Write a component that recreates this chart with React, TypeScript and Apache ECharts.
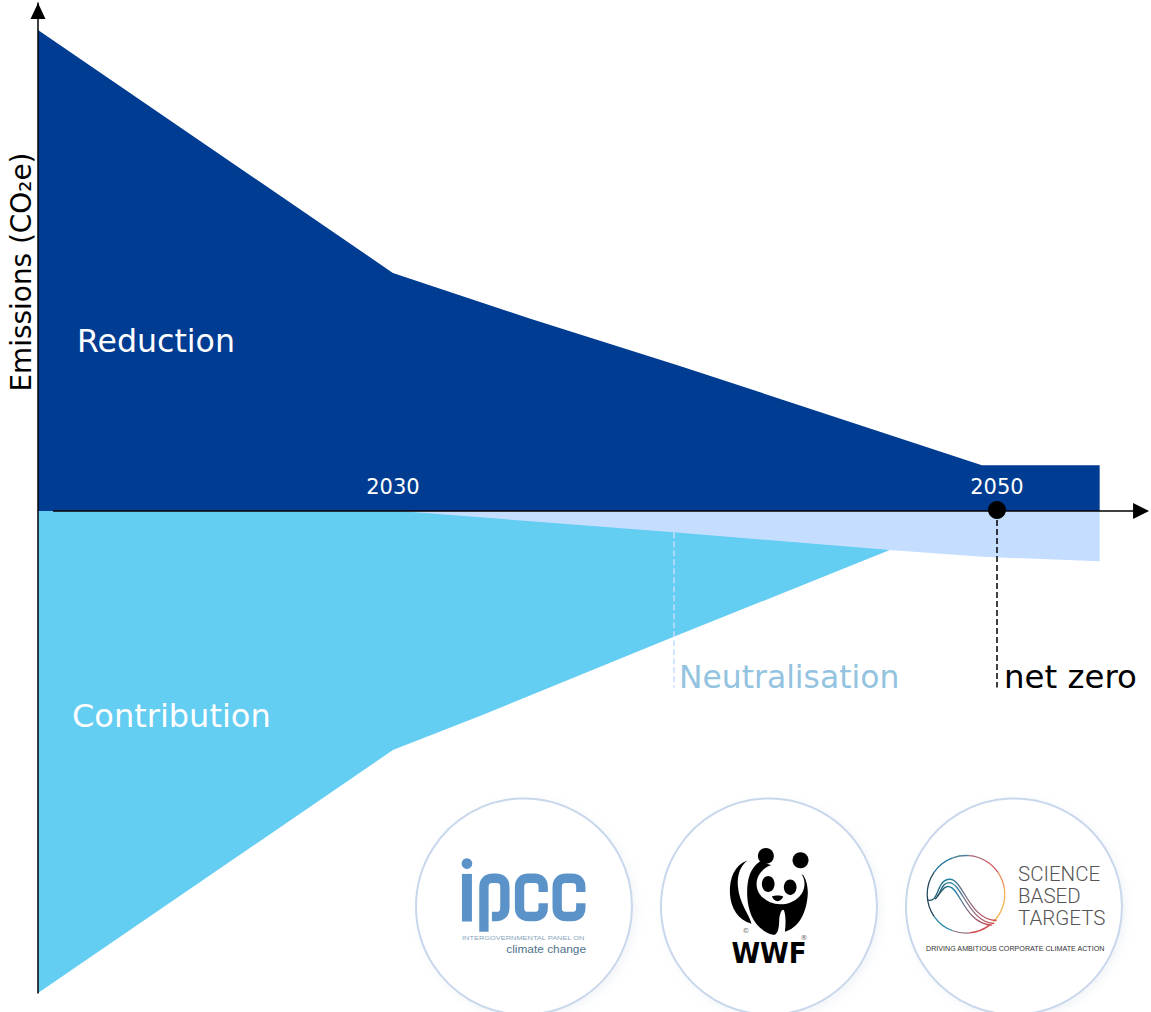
import React, { useEffect, useRef } from "react";
import * as echarts from "echarts";

// Chart values (x: year, y: share of base emissions)
const reductionYears = [2018.25, 2030, 2034.5, 2039.5, 2049.5, 2053.4];
const reductionValues = [99.8, 49.4, 40, 30.1, 9.5, 9.5];
const contributionYears = [2018.25, 2030, 2032.9, 2039.3, 2046.45];
const contributionValues = [-100, -49.6, -42.5, -26.1, -8.1];
const neutralisationYears = [2030.2, 2039.3, 2046.45, 2049.5, 2053.4];
const neutralisationValues = [0, -4.4, -8.1, -9.5, -10.4];
const tickYears = [2030, 2050];
const netZeroYear = 2050;
const neutralisationMarkerYear = 2039.3;
const markerBottom = -36.6;

const zip = (xs: number[], ys: number[]) => xs.map((x, i) => [x, ys[i]]);

const FONT = "'DejaVu Sans', sans-serif";

const IPCC_D =
  "M252 456 V322 Q252 295 279 295 H288 Q315 295 315 322 V383 Q315 410 288 410 H276 " +
  "M430 336 V322 Q430 295 403 295 H386 Q359 295 359 322 V383 Q359 410 386 410 H403 Q430 410 430 383 V370 " +
  "M543 336 V322 Q543 295 516 295 H499 Q472 295 472 322 V383 Q472 410 499 410 H516 Q543 410 543 383 V370";
const PANDA_BODY_D =
  "M330 245 C300 265 290 300 292 350 C295 400 315 450 370 465 C385 467 388 440 388 420 " +
  "C390 400 395 390 400 390 C405 390 410 420 405 456 C440 445 470 410 474 340 C474 320 470 300 460 285 L330 245 Z";
const PANDA_HUMP_D =
  "M292 242 C255 255 238 295 240 340 C242 385 265 420 305 432 C296 400 268 370 264 320 C261 285 272 258 292 242 Z";
const PANDA_NOSE_D =
  "M366 350 C375 346 392 346 400 350 C398 358 390 363 383 364 C376 363 369 358 366 350 Z " +
  "M368 372 C378 380 390 380 398 372 C392 384 376 384 368 372 Z";
const SBT_1_D = "M97 360 C135 372 122 298 165 298 C205 298 222 420 305 422";
const SBT_2_D = "M120 358 C138 345 138 308 163 308 C200 308 222 428 298 431";
const SBT_3_D = "M127 350 C143 330 148 318 163 320 C195 325 212 434 292 436";

echarts.graphic.registerShape("ipccLetters", echarts.graphic.extendPath(IPCC_D, {}));
echarts.graphic.registerShape("pandaBody", echarts.graphic.extendPath(PANDA_BODY_D, {}));
echarts.graphic.registerShape("pandaHump", echarts.graphic.extendPath(PANDA_HUMP_D, {}));
echarts.graphic.registerShape("pandaNose", echarts.graphic.extendPath(PANDA_NOSE_D, {}));
echarts.graphic.registerShape("sbt1", echarts.graphic.extendPath(SBT_1_D, {}));
echarts.graphic.registerShape("sbt2", echarts.graphic.extendPath(SBT_2_D, {}));
echarts.graphic.registerShape("sbt3", echarts.graphic.extendPath(SBT_3_D, {}));

const label = (
  text: string,
  x: number,
  y: number,
  fontSize: number,
  fill: string,
  extra: any = {},
  styleExtra: any = {}
) => ({
  type: "text",
  x,
  y,
  z: 20,
  silent: true,
  ...extra,
  style: {
    text,
    fill,
    font: `${fontSize}px ${FONT}`,
    textVerticalAlign: "middle",
    ...styleExtra,
  },
});

const badge = (cx: number) => ({
  type: "circle",
  z: 15,
  silent: true,
  shape: { cx, cy: 906.5, r: 108 },
  style: {
    fill: "#ffffff",
    stroke: "#c9d7ec",
    lineWidth: 2,
    shadowBlur: 8,
    shadowOffsetX: 3,
    shadowOffsetY: 3,
    shadowColor: "rgba(200,210,225,0.25)",
  },
});

const zoomGroup = (x: number, y: number, children: any[]) => ({
  type: "group",
  x,
  y,
  scaleX: 1 / 3,
  scaleY: 1 / 3,
  silent: true,
  children: children.map((c) => ({ z: 16, ...c })),
});

const sbtGradient = {
  type: "linear",
  x: 0,
  y: 0,
  x2: 1,
  y2: 0,
  colorStops: [
    { offset: 0, color: "#24475a" },
    { offset: 0.3, color: "#1f86a6" },
    { offset: 0.6, color: "#8a6a7e" },
    { offset: 1, color: "#d2474c" },
  ],
};

const sbtArcs: [number, number, string][] = [
  [180, 215, "#24475a"],
  [215, 250, "#22789a"],
  [250, 275, "#4f8196"],
  [275, 300, "#a9616e"],
  [300, 325, "#d2505a"],
  [325, 350, "#ea8a55"],
  [350, 405, "#f0b351"],
  [52, 85, "#d2474c"],
  [85, 110, "#8f7585"],
  [110, 145, "#2a8aa8"],
  [145, 180, "#24475a"],
];

const graphics: any[] = [
  label("Emissions (CO\u2082e)", 21, 272, 27.9, "#000000", { rotation: Math.PI / 2 }, { textAlign: "center" }),
  label("Reduction", 77, 341, 31.6, "#ffffff"),
  label("Contribution", 72, 716, 32, "#ffffff"),
  label("Neutralisation", 679, 677, 31.4, "#93c3e0"),
  label("net zero", 1004, 677, 32.4, "#000000"),

  badge(524),
  badge(769),
  badge(1014),

  // IPCC
  zoomGroup(400, 780, [
    { type: "rect", shape: { x: 186, y: 282, width: 30, height: 143 }, style: { fill: "#5b93c9" } },
    { type: "circle", shape: { cx: 201, cy: 251, r: 16 }, style: { fill: "#5b93c9" } },
    { type: "ipccLetters", style: { fill: "none", stroke: "#5b93c9", lineWidth: 28 } },
  ]),
  label("INTERGOVERNMENTAL PANEL ON", 462, 938, 6.2, "#8aa6bd", { scaleX: 1.2 }, {
    font: `6.2px 'Liberation Sans', sans-serif`,
  }),
  label("climate change", 586, 949, 10.5, "#4f7189", { scaleX: 1.13 }, {
    textAlign: "right",
    font: `10.5px 'Liberation Sans', sans-serif`,
  }),

  // WWF
  zoomGroup(650, 780, [
    { type: "pandaBody", style: { fill: "#000000" } },
    { type: "pandaHump", style: { fill: "#000000" } },
    { type: "ellipse", shape: { cx: 392, cy: 312, rx: 72, ry: 61 }, style: { fill: "#ffffff" } },
    { type: "circle", shape: { cx: 348, cy: 228, r: 24 }, style: { fill: "#000000" } },
    { type: "circle", shape: { cx: 452, cy: 241, r: 24 }, style: { fill: "#000000" } },
    { type: "ellipse", shape: { cx: 355, cy: 312, rx: 19, ry: 24 }, style: { fill: "#000000" } },
    { type: "ellipse", shape: { cx: 421, cy: 322, rx: 19, ry: 23 }, style: { fill: "#000000" } },
    { type: "pandaNose", style: { fill: "#000000" } },
  ]),
  label("WWF", 769, 953.5, 26, "#000000", { scaleY: 1.1 }, { textAlign: "center", font: `bold 26px ${FONT}` }),
  label("\u00a9", 746, 931, 7, "#666666", {}, { textAlign: "center" }),
  label("\u00ae", 804, 938, 7, "#666666", {}, { textAlign: "center" }),

  // Science Based Targets
  ...sbtArcs.map(([a, b, color]) => ({
    type: "arc",
    z: 16,
    silent: true,
    shape: {
      cx: 966,
      cy: 894.3,
      r: 38.8,
      startAngle: (a * Math.PI) / 180,
      endAngle: (b * Math.PI) / 180,
      clockwise: true,
    },
    style: { fill: "none", stroke: color, lineWidth: 1.3 },
  })),
  zoomGroup(895, 780, [
    { type: "sbt1", style: { fill: "none", stroke: sbtGradient, lineWidth: 4 } },
    { type: "sbt2", style: { fill: "none", stroke: sbtGradient, lineWidth: 4 } },
    { type: "sbt3", style: { fill: "none", stroke: sbtGradient, lineWidth: 4 } },
  ]),
  ...[
    ["SCIENCE", 873.5],
    ["BASED", 895.5],
    ["TARGETS", 917.5],
  ].map(([t, y]) =>
    label(t as string, 1018, y as number, 20.5, "#555555", {}, { font: `300 20.5px Roboto, sans-serif` })
  ),
  label("DRIVING AMBITIOUS CORPORATE CLIMATE ACTION", 926, 948, 8, "#333333", { scaleX: 0.895 }, {
    font: `8px 'Liberation Sans', sans-serif`,
  }),
];

const option: any = {
  animation: false,
  backgroundColor: "#ffffff",
  grid: { left: 38, right: 3, top: 3, bottom: 19 },
  xAxis: {
    type: "value",
    min: 2018.25,
    max: 2055,
    splitLine: { show: false },
    axisTick: { show: false },
    axisLine: { show: false },
    axisLabel: { show: false },
  },
  yAxis: {
    type: "value",
    min: -100,
    max: 105.4,
    z: 10,
    splitLine: { show: false },
    axisTick: { show: false },
    axisLabel: { show: false },
    axisLine: {
      show: true,
      onZero: false,
      symbol: ["none", "triangle"],
      symbolSize: [15, 16],
      symbolOffset: [0, -8],
      lineStyle: { color: "#000000", width: 1.5 },
    },
  },
  series: [
    {
      name: "Reduction",
      type: "line",
      z: 2,
      showSymbol: false,
      data: zip(reductionYears, reductionValues),
      lineStyle: { width: 0 },
      areaStyle: { color: "#003c91", opacity: 1, origin: 0 },
    },
    {
      name: "Contribution",
      type: "line",
      z: 3,
      showSymbol: false,
      data: zip(contributionYears, contributionValues),
      lineStyle: { width: 0 },
      areaStyle: { color: "#64cdf2", opacity: 1, origin: 0 },
    },
    {
      name: "Neutralisation",
      type: "line",
      z: 4,
      showSymbol: false,
      data: zip(neutralisationYears, neutralisationValues),
      lineStyle: { width: 0 },
      areaStyle: { color: "#c5deff", opacity: 1, origin: 0 },
      markLine: {
        silent: true,
        z: 5,
        animation: false,
        symbol: "none",
        label: { show: false },
        lineStyle: { color: "#c5deff", type: "dashed", width: 1.5 },
        data: [[{ coord: [neutralisationMarkerYear, -4.4] }, { coord: [neutralisationMarkerYear, markerBottom] }]],
      },
    },
    {
      name: "Axis",
      type: "line",
      z: 9,
      showSymbol: false,
      data: [],
      markLine: {
        silent: true,
        z: 9,
        animation: false,
        symbol: ["none", "triangle"],
        symbolSize: 16,
        label: { show: false },
        lineStyle: { color: "#000000", type: "solid", width: 1.5 },
        data: [[{ coord: [2018.75, 0] }, { coord: [2054.77, 0] }]],
      },
    },
    {
      name: "Year labels",
      type: "scatter",
      z: 12,
      symbolSize: 1,
      itemStyle: { color: "rgba(0,0,0,0)", opacity: 1 },
      data: tickYears.map((y) => [y, 0]),
      label: {
        show: true,
        position: "top",
        distance: 13,
        opacity: 1,
        color: "#ffffff",
        fontFamily: "DejaVu Sans",
        fontSize: 21,
        formatter: (p: any) => String(p.value[0]),
      },
    },
    {
      name: "Net zero",
      type: "scatter",
      z: 11,
      symbolSize: 18,
      itemStyle: { color: "#000000", opacity: 1 },
      data: [[netZeroYear, 0.2]],
      markLine: {
        silent: true,
        z: 8,
        animation: false,
        symbol: "none",
        label: { show: false },
        lineStyle: { color: "#000000", type: "dashed", width: 1.5 },
        data: [[{ coord: [netZeroYear, 0] }, { coord: [netZeroYear, markerBottom] }]],
      },
    },
  ],
  graphic: { elements: graphics },
};

export default function App() {
  const ref = useRef<HTMLDivElement>(null);
  useEffect(() => {
    document.body.style.margin = "0";
    document.body.style.overflow = "hidden";
    const chart = echarts.init(ref.current!, undefined, { renderer: "svg" });
    chart.setOption(option);
    return () => chart.dispose();
  }, []);
  return <div ref={ref} style={{ position: "absolute", left: 0, top: 0, width: 1151, height: 1012 }} />;
}
